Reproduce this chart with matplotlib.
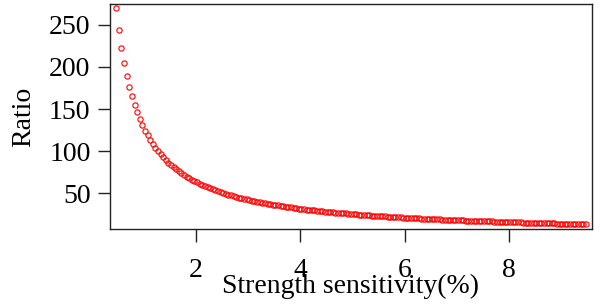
import matplotlib
matplotlib.use("Agg")
import matplotlib.pyplot as plt

# strength sensitivity (%) and ratio
sensitivity = [
    0.47, 0.52, 0.57, 0.62, 0.67, 0.72, 0.77, 0.82, 0.87, 0.92,
    0.97, 1.02, 1.07, 1.12, 1.17, 1.22, 1.27, 1.32, 1.37, 1.42,
    1.47, 1.52, 1.57, 1.62, 1.67, 1.72, 1.77, 1.82, 1.87, 1.92,
    1.97, 2.02, 2.07, 2.12, 2.17, 2.22, 2.27, 2.32, 2.37, 2.42,
    2.47, 2.52, 2.57, 2.62, 2.67, 2.72, 2.77, 2.82, 2.87, 2.92,
    2.97, 3.02, 3.07, 3.12, 3.17, 3.22, 3.27, 3.32, 3.37, 3.42,
    3.47, 3.52, 3.57, 3.62, 3.67, 3.72, 3.77, 3.82, 3.87, 3.92,
    3.97, 4.02, 4.07, 4.12, 4.17, 4.22, 4.27, 4.32, 4.37, 4.42,
    4.47, 4.52, 4.57, 4.62, 4.67, 4.72, 4.77, 4.82, 4.87, 4.92,
    4.97, 5.02, 5.07, 5.12, 5.17, 5.22, 5.27, 5.32, 5.37, 5.42,
    5.47, 5.52, 5.57, 5.62, 5.67, 5.72, 5.77, 5.82, 5.87, 5.92,
    5.97, 6.02, 6.07, 6.12, 6.17, 6.22, 6.27, 6.32, 6.37, 6.42,
    6.47, 6.52, 6.57, 6.62, 6.67, 6.72, 6.77, 6.82, 6.87, 6.92,
    6.97, 7.02, 7.07, 7.12, 7.17, 7.22, 7.27, 7.32, 7.37, 7.42,
    7.47, 7.52, 7.57, 7.62, 7.67, 7.72, 7.77, 7.82, 7.87, 7.92,
    7.97, 8.02, 8.07, 8.12, 8.17, 8.22, 8.27, 8.32, 8.37, 8.42,
    8.47, 8.52, 8.57, 8.62, 8.67, 8.72, 8.77, 8.82, 8.87, 8.92,
    8.97, 9.02, 9.07, 9.12, 9.17, 9.22, 9.27, 9.32, 9.37, 9.42,
    9.47,
]
ratio = [
    270.2, 244.2, 222.8, 204.8, 189.6, 176.4, 164.9, 154.9, 146.0, 138.0,
    130.9, 124.5, 118.7, 113.4, 108.5, 104.1, 100.0, 96.2, 92.7, 89.4,
    86.4, 83.6, 80.9, 78.4, 76.0, 73.8, 71.8, 69.8, 67.9, 66.1,
    64.5, 62.9, 61.4, 59.9, 58.5, 57.2, 55.9, 54.7, 53.6, 52.5,
    51.4, 50.4, 49.4, 48.5, 47.6, 46.7, 45.8, 45.0, 44.3, 43.5,
    42.8, 42.1, 41.4, 40.7, 40.1, 39.4, 38.8, 38.3, 37.7, 37.1,
    36.6, 36.1, 35.6, 35.1, 34.6, 34.1, 33.7, 33.2, 32.8, 32.4,
    32.0, 31.6, 31.2, 30.8, 30.5, 30.1, 29.7, 29.4, 29.1, 28.7,
    28.4, 28.1, 27.8, 27.5, 27.2, 26.9, 26.6, 26.3, 26.1, 25.8,
    25.6, 25.3, 25.0, 24.8, 24.6, 24.3, 24.1, 23.9, 23.6, 23.4,
    23.2, 23.0, 22.8, 22.6, 22.4, 22.2, 22.0, 21.8, 21.6, 21.5,
    21.3, 21.1, 20.9, 20.8, 20.6, 20.4, 20.3, 20.1, 19.9, 19.8,
    19.6, 19.5, 19.3, 19.2, 19.0, 18.9, 18.8, 18.6, 18.5, 18.4,
    18.2, 18.1, 18.0, 17.8, 17.7, 17.6, 17.5, 17.3, 17.2, 17.1,
    17.0, 16.9, 16.8, 16.7, 16.6, 16.5, 16.3, 16.2, 16.1, 16.0,
    15.9, 15.8, 15.7, 15.6, 15.5, 15.5, 15.4, 15.3, 15.2, 15.1,
    15.0, 14.9, 14.8, 14.7, 14.6, 14.6, 14.5, 14.4, 14.3, 14.2,
    14.2, 14.1, 14.0, 13.9, 13.8, 13.8, 13.7, 13.6, 13.6, 13.5,
    13.4,
]
x_ticks = [2, 4, 6, 8]
y_ticks = [50, 100, 150, 200, 250]

plt.rcParams["font.family"] = ["Liberation Serif", "DejaVu Serif"]
plt.rcParams["font.size"] = 20

fig = plt.figure(figsize=(6.06, 3.07), dpi=100)
ax = fig.add_axes([0.1815, 0.253, 0.7954, 0.735])

ax.plot(sensitivity, ratio, linestyle="none", marker="o", markersize=3.8,
        markerfacecolor="none", markeredgecolor="red", markeredgewidth=0.8)

ax.set_xlim(0.35, 9.59)
ax.set_ylim(7.3, 275)
ax.set_xticks(x_ticks)
ax.set_yticks(y_ticks)

for side in ax.spines.values():
    side.set_linewidth(1.0)
    side.set_color("#222222")
ax.tick_params(direction="out", length=9, width=1.0, color="#222222")
ax.tick_params(axis="x", pad=12)
ax.tick_params(axis="y", pad=5)

ax.set_xlabel("Strength sensitivity(%)", labelpad=-7)
ax.set_ylabel("Ratio", labelpad=9)

fig.savefig("out.png", dpi=100)
plt.close(fig)
